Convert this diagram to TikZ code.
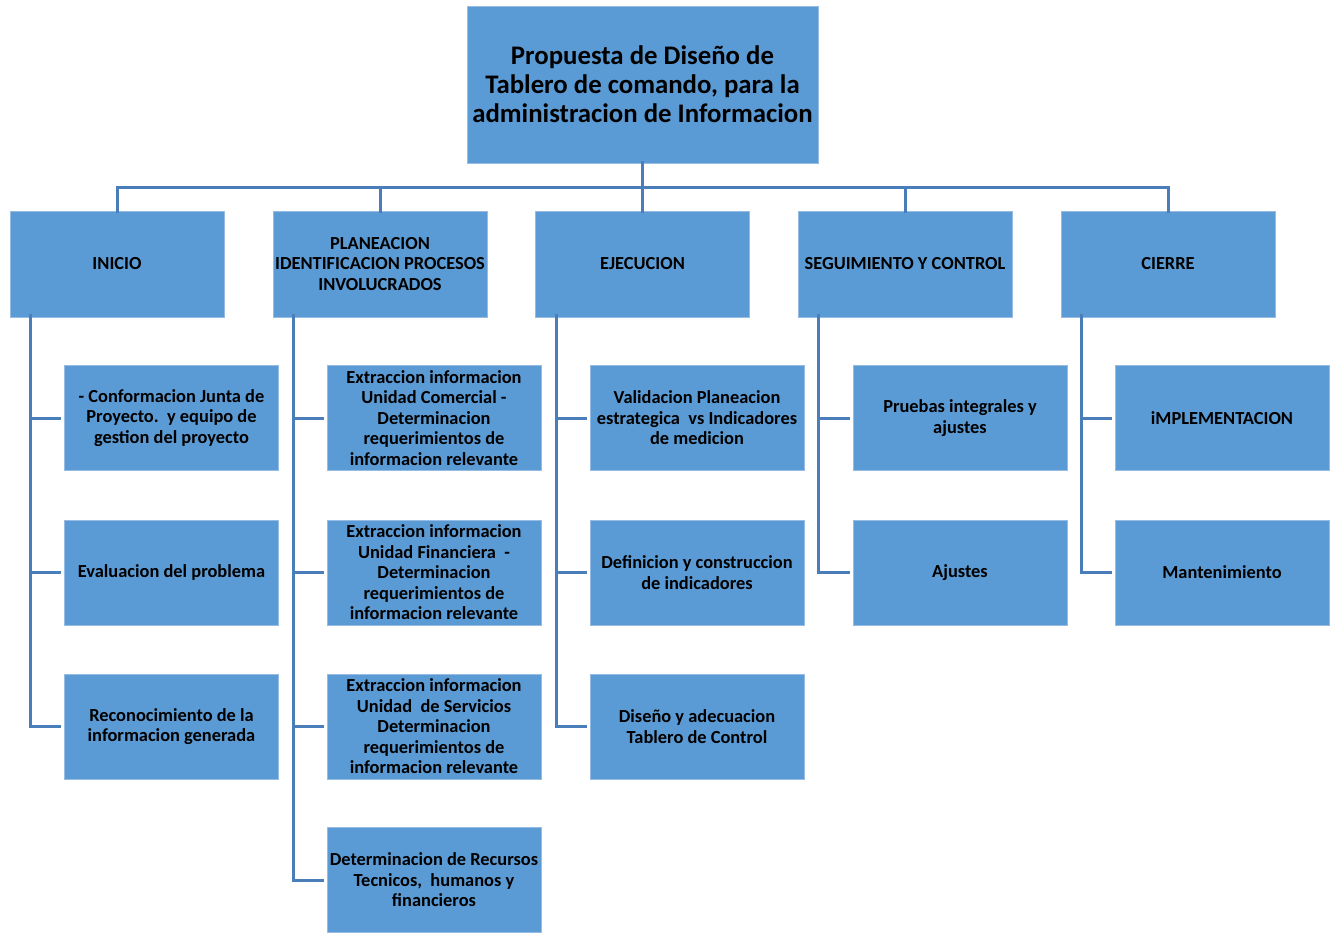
\documentclass[tikz,border=0pt]{standalone}
\usepackage{fontspec}
\setmainfont{Carlito}
\definecolor{boxfill}{RGB}{91,155,213}
\definecolor{boxedge}{RGB}{150,188,228}
\definecolor{linkcol}{RGB}{74,126,187}
\begin{document}
\begin{tikzpicture}[x=1pt,y=-1pt,
  base/.style={draw=boxedge,line width=0.8pt,fill=boxfill,align=center,inner sep=0pt,font=\bfseries},
  rootbox/.style={base,minimum width=351pt,minimum height=157pt,font=\bfseries\fontsize{26.8}{29}\selectfont},
  phasebox/.style={base,minimum width=214pt,minimum height=106pt,font=\bfseries\fontsize{18.4}{20.5}\selectfont},
  taskbox/.style={base,minimum width=214pt,minimum height=105pt,font=\bfseries\fontsize{18.4}{20.5}\selectfont},
  link/.style={draw=linkcol,line width=3pt}]
\useasboundingbox (0,0) rectangle (1336,932);

% top box
\node[rootbox] (root) at (642.5,84.5) {Propuesta de Diseño de\\Tablero de comando, para la\\administracion de Informacion};

% phases
\node[phasebox] (inicio) at (117,264) {INICIO};
\node[phasebox] (plan) at (380,264) {PLANEACION\\IDENTIFICACION PROCESOS\\INVOLUCRADOS};
\node[phasebox] (ejec) at (642.5,264) {EJECUCION};
\node[phasebox] (seg) at (905,264) {SEGUIMIENTO Y CONTROL};
\node[phasebox] (cierre) at (1168,264) {CIERRE};

% tasks of INICIO
\node[taskbox] (i1) at (171.5,418) {- Conformacion Junta de\\Proyecto.\ \ y equipo de\\gestion del proyecto};
\node[taskbox] (i2) at (171.5,572.5) {Evaluacion del problema};
\node[taskbox] (i3) at (171.5,726.5) {Reconocimiento de la\\informacion generada};

% tasks of PLANEACION
\node[taskbox] (p1) at (434,418) {Extraccion informacion\\Unidad Comercial -\\Determinacion\\requerimientos de\\informacion relevante};
\node[taskbox] (p2) at (434,572.5) {Extraccion informacion\\Unidad Financiera\ \ -\\Determinacion\\requerimientos de\\informacion relevante};
\node[taskbox] (p3) at (434,726.5) {Extraccion informacion\\Unidad\ \ de Servicios\\Determinacion\\requerimientos de\\informacion relevante};
\node[taskbox] (p4) at (434,880) {Determinacion de Recursos\\Tecnicos,\ \ humanos y\\financieros};

% tasks of EJECUCION
\node[taskbox] (e1) at (697,418) {Validacion Planeacion\\estrategica\ \ vs Indicadores\\de medicion};
\node[taskbox] (e2) at (697,572.5) {Definicion y construccion\\de indicadores};
\node[taskbox] (e3) at (697,726.5) {Diseño y adecuacion\\Tablero de Control};

% tasks of SEGUIMIENTO
\node[taskbox] (s1) at (960,418) {Pruebas integrales y\\ajustes};
\node[taskbox] (s2) at (960,572.5) {Ajustes};

% tasks of CIERRE
\node[taskbox] (c1) at (1222,418) {iMPLEMENTACION};
\node[taskbox] (c2) at (1222,572.5) {Mantenimiento};

% bus from the top box to the phases
\coordinate (bus) at (642.5,187);
\draw[link] ([yshift=2pt]root.south) -- ([yshift=-2pt]ejec.north);
\draw[link] ([yshift=-2pt]inicio.north) -- (inicio.north |- bus) -- (cierre.north |- bus) -- ([yshift=-2pt]cierre.north);
\foreach \p in {plan,seg}
  \draw[link] ([yshift=-2pt]\p.north) -- (\p.north |- bus);

% spines from each phase down to its tasks
\foreach \p/\t in {inicio/i1,inicio/i2,inicio/i3,plan/p1,plan/p2,plan/p3,plan/p4,ejec/e1,ejec/e2,ejec/e3,seg/s1,seg/s2,cierre/c1,cierre/c2}
  \draw[link] ([xshift=21pt,yshift=3pt]\p.south west) |- ([xshift=-3pt]\t.west);
\end{tikzpicture}
\end{document}
